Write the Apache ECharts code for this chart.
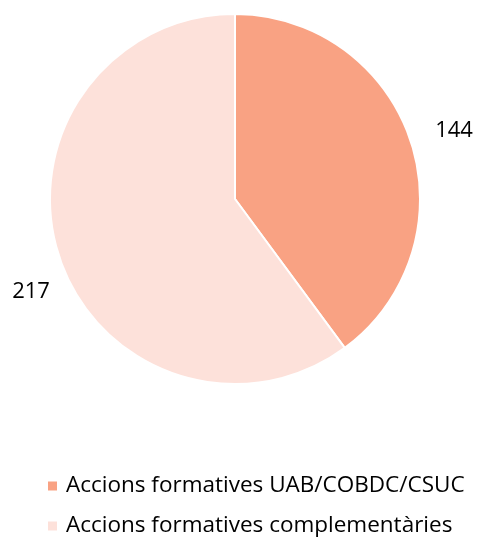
<!DOCTYPE html>
<html>
<head>
<meta charset="utf-8">
<script src="https://cdn.jsdelivr.net/npm/echarts@6/dist/echarts.min.js"></script>
<style>
  html, body { margin: 0; padding: 0; background: #fff; }
  #chart { width: 479px; height: 538px; }
</style>
</head>
<body>
<div id="chart"></div>
<script>
const categories = ['Accions formatives UAB/COBDC/CSUC', 'Accions formatives complementàries']
const values = [144, 217]
const colors = ['#F9A283', '#FDE1DA']

// where Excel puts the two value labels (label centres)
const labelSpots = [[454, 131], [31, 292]]

const chart = echarts.init(document.getElementById('chart'))

chart.setOption({
  animation: false,
  color: colors,
  legend: {
    orient: 'vertical',
    left: 46,
    top: 474,
    padding: 0,
    itemWidth: 11,
    itemHeight: 11,
    itemGap: 16,
    icon: 'rect',
    textStyle: {
      fontFamily: 'Open Sans',
      fontSize: 22.5,
      color: '#000',
      lineHeight: 24,
      padding: [0, 0, 0, 3]
    },
    data: categories
  },
  series: [{
    type: 'pie',
    center: [235, 199],
    radius: 185,
    startAngle: 90,
    clockwise: true,
    itemStyle: { borderColor: '#fff', borderWidth: 2 },
    label: {
      show: true,
      position: 'outside',
      formatter: '{c}',
      fontFamily: 'Open Sans',
      fontSize: 22,
      color: '#000',
      width: 50,
      align: 'center'
    },
    labelLine: { show: false },
    labelLayout: params => {
      const p = labelSpots[params.dataIndex]
      return { x: p[0], y: p[1], align: 'center', verticalAlign: 'middle' }
    },
    emphasis: { disabled: true },
    data: categories.map((name, i) => ({ name, value: values[i] }))
  }]
})
</script>
</body>
</html>
